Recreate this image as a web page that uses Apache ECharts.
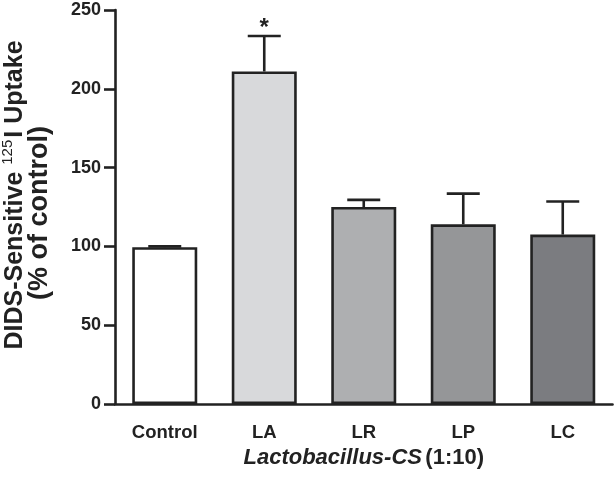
<!DOCTYPE html>
<html>
<head>
<meta charset="utf-8">
<script src="https://cdn.jsdelivr.net/npm/echarts@6/dist/echarts.min.js"></script>
<style>
html,body{margin:0;padding:0;background:#fff;}
#chart{width:614px;height:491px;}
</style>
</head>
<body>
<div id="chart"></div>
<script>
const categories = ['Control', 'LA', 'LR', 'LP', 'LC'];
const means = [99.5, 211, 125, 114, 107.5];
const upperErr = [100, 233.5, 129.5, 133.5, 128.5];
const significance = ['', '*', '', '', ''];
const barColors = ['#ffffff', '#d8d9db', '#aeafb1', '#959698', '#7b7c80'];
const yTicks = { min: 0, max: 250, interval: 50 };

const ink = '#222222';
const chart = echarts.init(document.getElementById('chart'), null, { renderer: 'canvas' });

const errData = categories.map((c, i) => [i, means[i], upperErr[i]]);

chart.setOption({
  animation: false,
  grid: { left: 115, right: 1.5, top: 10, bottom: 87 },
  xAxis: {
    type: 'category',
    data: categories,
    axisLine: { lineStyle: { color: ink, width: 2.6 } },
    axisTick: { show: false },
    axisLabel: {
      color: ink, fontFamily: 'Liberation Sans, Arial', fontWeight: 'bold',
      fontSize: 18.5, margin: 19
    },
    name: '{i|Lactobacillus-CS} {n|(1:10)}',
    nameLocation: 'middle',
    nameGap: 33,
    nameTextStyle: {
      rich: {
        i: { fontFamily: 'Liberation Sans, Arial', fontWeight: 'bold', fontStyle: 'italic', fontSize: 22, color: ink },
        n: { fontFamily: 'Liberation Sans, Arial', fontWeight: 'bold', fontSize: 22, color: ink }
      }
    }
  },
  yAxis: {
    type: 'value',
    min: yTicks.min, max: yTicks.max, interval: yTicks.interval,
    splitLine: { show: false },
    axisLine: { show: true, lineStyle: { color: ink, width: 2.6 } },
    axisTick: { show: true, length: 11, lineStyle: { color: ink, width: 2.6 } },
    axisLabel: {
      color: ink, fontFamily: 'Liberation Sans, Arial', fontWeight: 'bold',
      fontSize: 18, margin: 14
    }
  },
  series: [
    {
      type: 'bar',
      data: means.map((v, i) => ({ value: v, itemStyle: { color: barColors[i] } })),
      barWidth: 65,
      itemStyle: { borderColor: ink, borderWidth: 2.6 },
      z: 2
    },
    {
      type: 'custom',
      data: errData,
      z: 3,
      renderItem: function (params, api) {
        const x = api.value(0);
        const base = api.coord([x, api.value(1)]);
        const top = api.coord([x, api.value(2)]);
        const half = 16.5;
        const style = { stroke: ink, lineWidth: 2.6 };
        const children = [
          { type: 'line', shape: { x1: base[0], y1: base[1], x2: top[0], y2: top[1] }, style: style },
          { type: 'line', shape: { x1: top[0] - half, y1: top[1], x2: top[0] + half, y2: top[1] }, style: style }
        ];
        const sig = significance[params.dataIndex];
        if (sig) {
          children.push({
            type: 'text',
            style: {
              text: sig, x: top[0], y: top[1] - 8,
              align: 'center', verticalAlign: 'middle',
              fill: ink, font: 'bold 24px "Liberation Sans", Arial'
            }
          });
        }
        return { type: 'group', children: children };
      }
    }
  ],
  graphic: [
    {
      type: 'text',
      x: 14, y: 195,
      rotation: Math.PI / 2,
      style: {
        text: '{a|DIDS-Sensitive }{s|125}{a|I Uptake}',
        align: 'center', verticalAlign: 'middle',
        fill: ink,
        rich: {
          a: { fontFamily: 'Liberation Sans, Arial', fontWeight: 'bold', fontSize: 25, color: ink, lineHeight: 27, verticalAlign: 'bottom' },
          s: { fontFamily: 'Liberation Sans, Arial', fontSize: 15, color: ink, lineHeight: 27, verticalAlign: 'top', padding: [0, 2, 10, 0] }
        }
      }
    },
    {
      type: 'text',
      x: 40, y: 213,
      rotation: Math.PI / 2,
      style: {
        text: '(% of control)',
        align: 'center', verticalAlign: 'middle',
        fill: ink,
        font: 'bold 27px "Liberation Sans", Arial'
      }
    }
  ]
});
</script>
</body>
</html>
